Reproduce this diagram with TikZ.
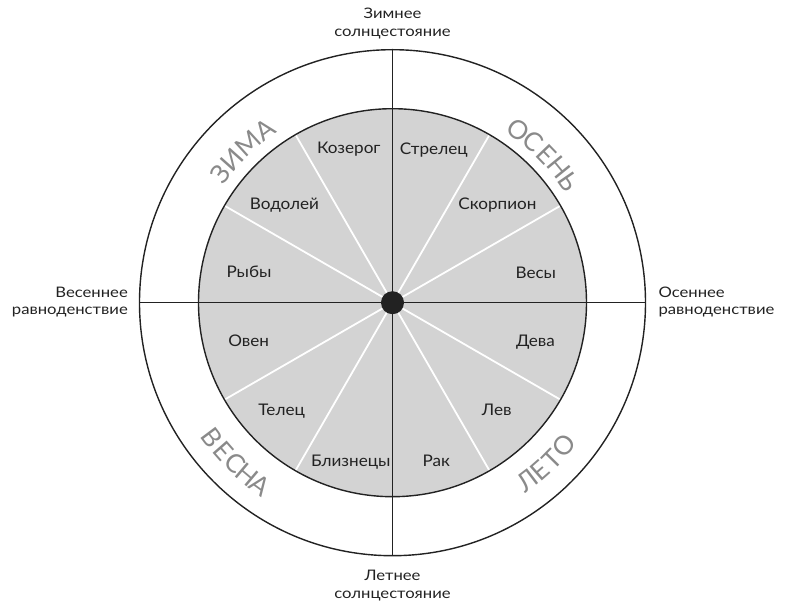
\documentclass[tikz,border=0pt]{standalone}
\usepackage{fontspec}
\setmainfont{Lato}
\newfontfamily\signfont[FakeStretch=1.07]{Lato}
\newfontfamily\axisfont[FakeStretch=1.15]{Lato}
\definecolor{ringgray}{HTML}{D3D3D3}
\definecolor{seasongray}{HTML}{8A8A8A}
\definecolor{ink}{HTML}{222222}
\begin{document}
\begin{tikzpicture}[x=1pt,y=1pt,
  rim/.style={draw=ink,line width=1.4pt},
  spoke/.style={draw=white,line width=1.8pt},
  axisline/.style={draw=ink,line width=1.4pt},
  sign/.style={font=\signfont\fontsize{16}{19}\selectfont,text=ink,inner sep=0pt,anchor=base},
  pointlbl/.style={font=\axisfont\fontsize{14.5}{17}\selectfont,text=ink,inner sep=0pt},
  seasonletter/.style={font=\fontsize{26}{30}\selectfont,text=seasongray,inner sep=0pt}]
\useasboundingbox (-392.5,-302.3) rectangle (394.5,302.7);
\coordinate (C) at (0,0);
% rings
\draw[rim] (C) circle (253);
\fill[ringgray] (C) circle (194);
\foreach \a in {30,60,120,150,210,240,300,330} \draw[spoke] (C) -- (\a:194);
\coordinate (N) at (0,253);
\coordinate (S) at (0,-253);
\coordinate (W) at (-253,0);
\coordinate (E) at (253,0);
\draw[axisline] (N) -- (S);
\draw[axisline] (W) -- (E);
\draw[rim] (C) circle (194);
\fill[ink] (C) circle (11.5);
% zodiac signs
\node[sign] (kozerog) at (-43.7,148.7) {Козерог};
\node[sign] (vodoley) at (-108,93.4) {Водолей};
\node[sign] (ryby) at (-143.5,25.2) {Рыбы};
\node[sign] (oven) at (-143.8,-43.5) {Овен};
\node[sign] (telec) at (-110.8,-112.3) {Телец};
\node[sign] (bliz) at (-41.7,-164) {Близнецы};
\node[sign] (strel) at (41.3,148.5) {Стрелец};
\node[sign] (skorp) at (105,93.4) {Скорпион};
\node[sign] (vesy) at (143.3,24.6) {Весы};
\node[sign] (deva) at (143,-44) {Дева};
\node[sign] (lev) at (104.2,-112.3) {Лев};
\node[sign] (rak) at (43.8,-164) {Рак};
% solstice / equinox labels
\node[pointlbl,anchor=base] (top1) at (0,284.4) {Зимнее};
\node[pointlbl,anchor=base] (top2) at (0,266) {солнцестояние};
\node[pointlbl,anchor=base] (bot1) at (0,-277.3) {Летнее};
\node[pointlbl,anchor=base] (bot2) at (0,-295.8) {солнцестояние};
\node[pointlbl,anchor=base east] (lft1) at (-264.5,5.4) {Весеннее};
\node[pointlbl,anchor=base east] (lft2) at (-264.5,-12.3) {равноденствие};
\node[pointlbl,anchor=base west] (rgt1) at (265.8,5.6) {Осеннее};
\node[pointlbl,anchor=base west] (rgt2) at (265.8,-12.3) {равноденствие};
% seasons
\foreach \l/\a [count=\i] in {З/143.3,И/138.3,М/132.3,А/126.3}
  \node[seasonletter,rotate=\a-90] (zima\i) at (\a:215) {\l};
\foreach \l/\a [count=\i] in {О/53.8,С/48.8,Е/43.9,Н/39.1,Ь/34.5}
  \node[seasonletter,rotate=\a-90] (osen\i) at (\a:214) {\l};
\foreach \l/\a [count=\i] in {Л/-52.8,Е/-48.6,Т/-44.5,О/-39.8}
  \node[seasonletter,rotate=\a+90] (leto\i) at (\a:223.5) {\l};
\foreach \l/\a [count=\i] in {В/216.8,Е/221.2,С/225.5,Н/229.8,А/234}
  \node[seasonletter,rotate=\a+90] (vesna\i) at (\a:225) {\l};
\end{tikzpicture}
\end{document}
